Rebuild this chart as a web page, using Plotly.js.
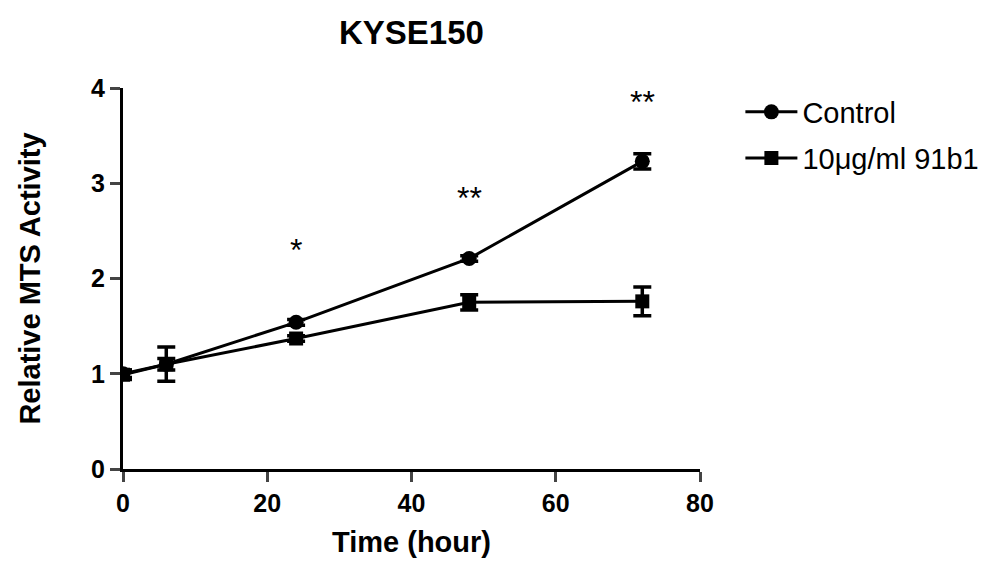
<!DOCTYPE html>
<html><head><meta charset="utf-8">
<script src="https://cdn.plot.ly/plotly-3.0.1.min.js"></script>
<style>html,body{margin:0;padding:0;background:#fff}#c{width:997px;height:565px}</style>
</head><body><div id="c"></div>
<script>
const time = [0, 6, 24, 48, 72];
const controlMean = [1.00, 1.10, 1.54, 2.21, 3.23];
const controlErr  = [0.04, 0.06, 0.03, 0.03, 0.08];
const treatMean   = [0.99, 1.10, 1.37, 1.75, 1.76];
const treatErr    = [0.05, 0.18, 0.03, 0.08, 0.15];
const sigX = [24, 48, 72];
const sigY = [2.30, 2.85, 3.85];
const sigLabel = ['*', '**', '**'];
const seriesNames = ['Control', '10\u03bcg/ml 91b1'];
const xTitle = 'Time (hour)';

const font = 'Liberation Sans, Arial, sans-serif';
const traces = [
  {x: time, y: controlMean, name: seriesNames[0], type: 'scatter', mode: 'lines+markers', legend: 'legend',
   line: {color: '#000', width: 3}, marker: {symbol: 'circle', size: 15, color: '#000'},
   error_y: {type: 'data', array: controlErr, visible: true, color: '#000', thickness: 3.5, width: 9}},
  {x: time, y: treatMean, name: seriesNames[1], type: 'scatter', mode: 'lines+markers', legend: 'legend2',
   line: {color: '#000', width: 3}, marker: {symbol: 'square', size: 14, color: '#000'},
   error_y: {type: 'data', array: treatErr, visible: true, color: '#000', thickness: 3.5, width: 9}}
];
const annotations = sigX.map((x, i) => ({x: x, y: sigY[i], text: sigLabel[i], showarrow: false,
  font: {family: font, size: 32, color: '#000'}, xref: 'x', yref: 'y'}));
annotations.push({x: 0.5, y: -0.192, xref: 'paper', yref: 'paper', xanchor: 'center', yanchor: 'middle',
  text: '<b>' + xTitle + '</b>', showarrow: false, font: {family: font, size: 29, color: '#000'}});
const legFont = {family: font, size: 29, color: '#000'};
const layout = {
  width: 997, height: 565,
  margin: {l: 123, r: 297, t: 88, b: 96},
  paper_bgcolor: '#fff', plot_bgcolor: '#fff',
  title: {text: '<b>KYSE150</b>', x: 0.4127, xanchor: 'center', y: 0.942, yanchor: 'middle',
    font: {family: font, size: 33, color: '#000'}},
  xaxis: {range: [0, 80], tickvals: [0, 20, 40, 60, 80], ticks: 'outside', ticklen: 10, tickwidth: 3,
    showline: true, linewidth: 3, linecolor: '#000', showgrid: false, zeroline: false,
    tickfont: {family: font, size: 25, color: '#000', weight: 'bold'}},
  yaxis: {range: [0, 4], tickvals: [0, 1, 2, 3, 4], ticks: 'outside', ticklen: 10, tickwidth: 3,
    showline: true, linewidth: 3, linecolor: '#000', showgrid: false, zeroline: false,
    tickfont: {family: font, size: 25, color: '#000', weight: 'bold'},
    title: {text: '<b>Relative MTS Activity</b>', font: {family: font, size: 29, color: '#000'}, standoff: 42}},
  legend: {x: 1.07, xanchor: 'left', y: 0.937, yanchor: 'middle', font: legFont, itemwidth: 52, bgcolor: 'rgba(0,0,0,0)'},
  legend2: {x: 1.07, xanchor: 'left', y: 0.816, yanchor: 'middle', font: legFont, itemwidth: 52, bgcolor: 'rgba(0,0,0,0)'},
  showlegend: true,
  annotations: annotations
};
Plotly.newPlot('c', traces, layout, {staticPlot: true});
</script></body></html>
